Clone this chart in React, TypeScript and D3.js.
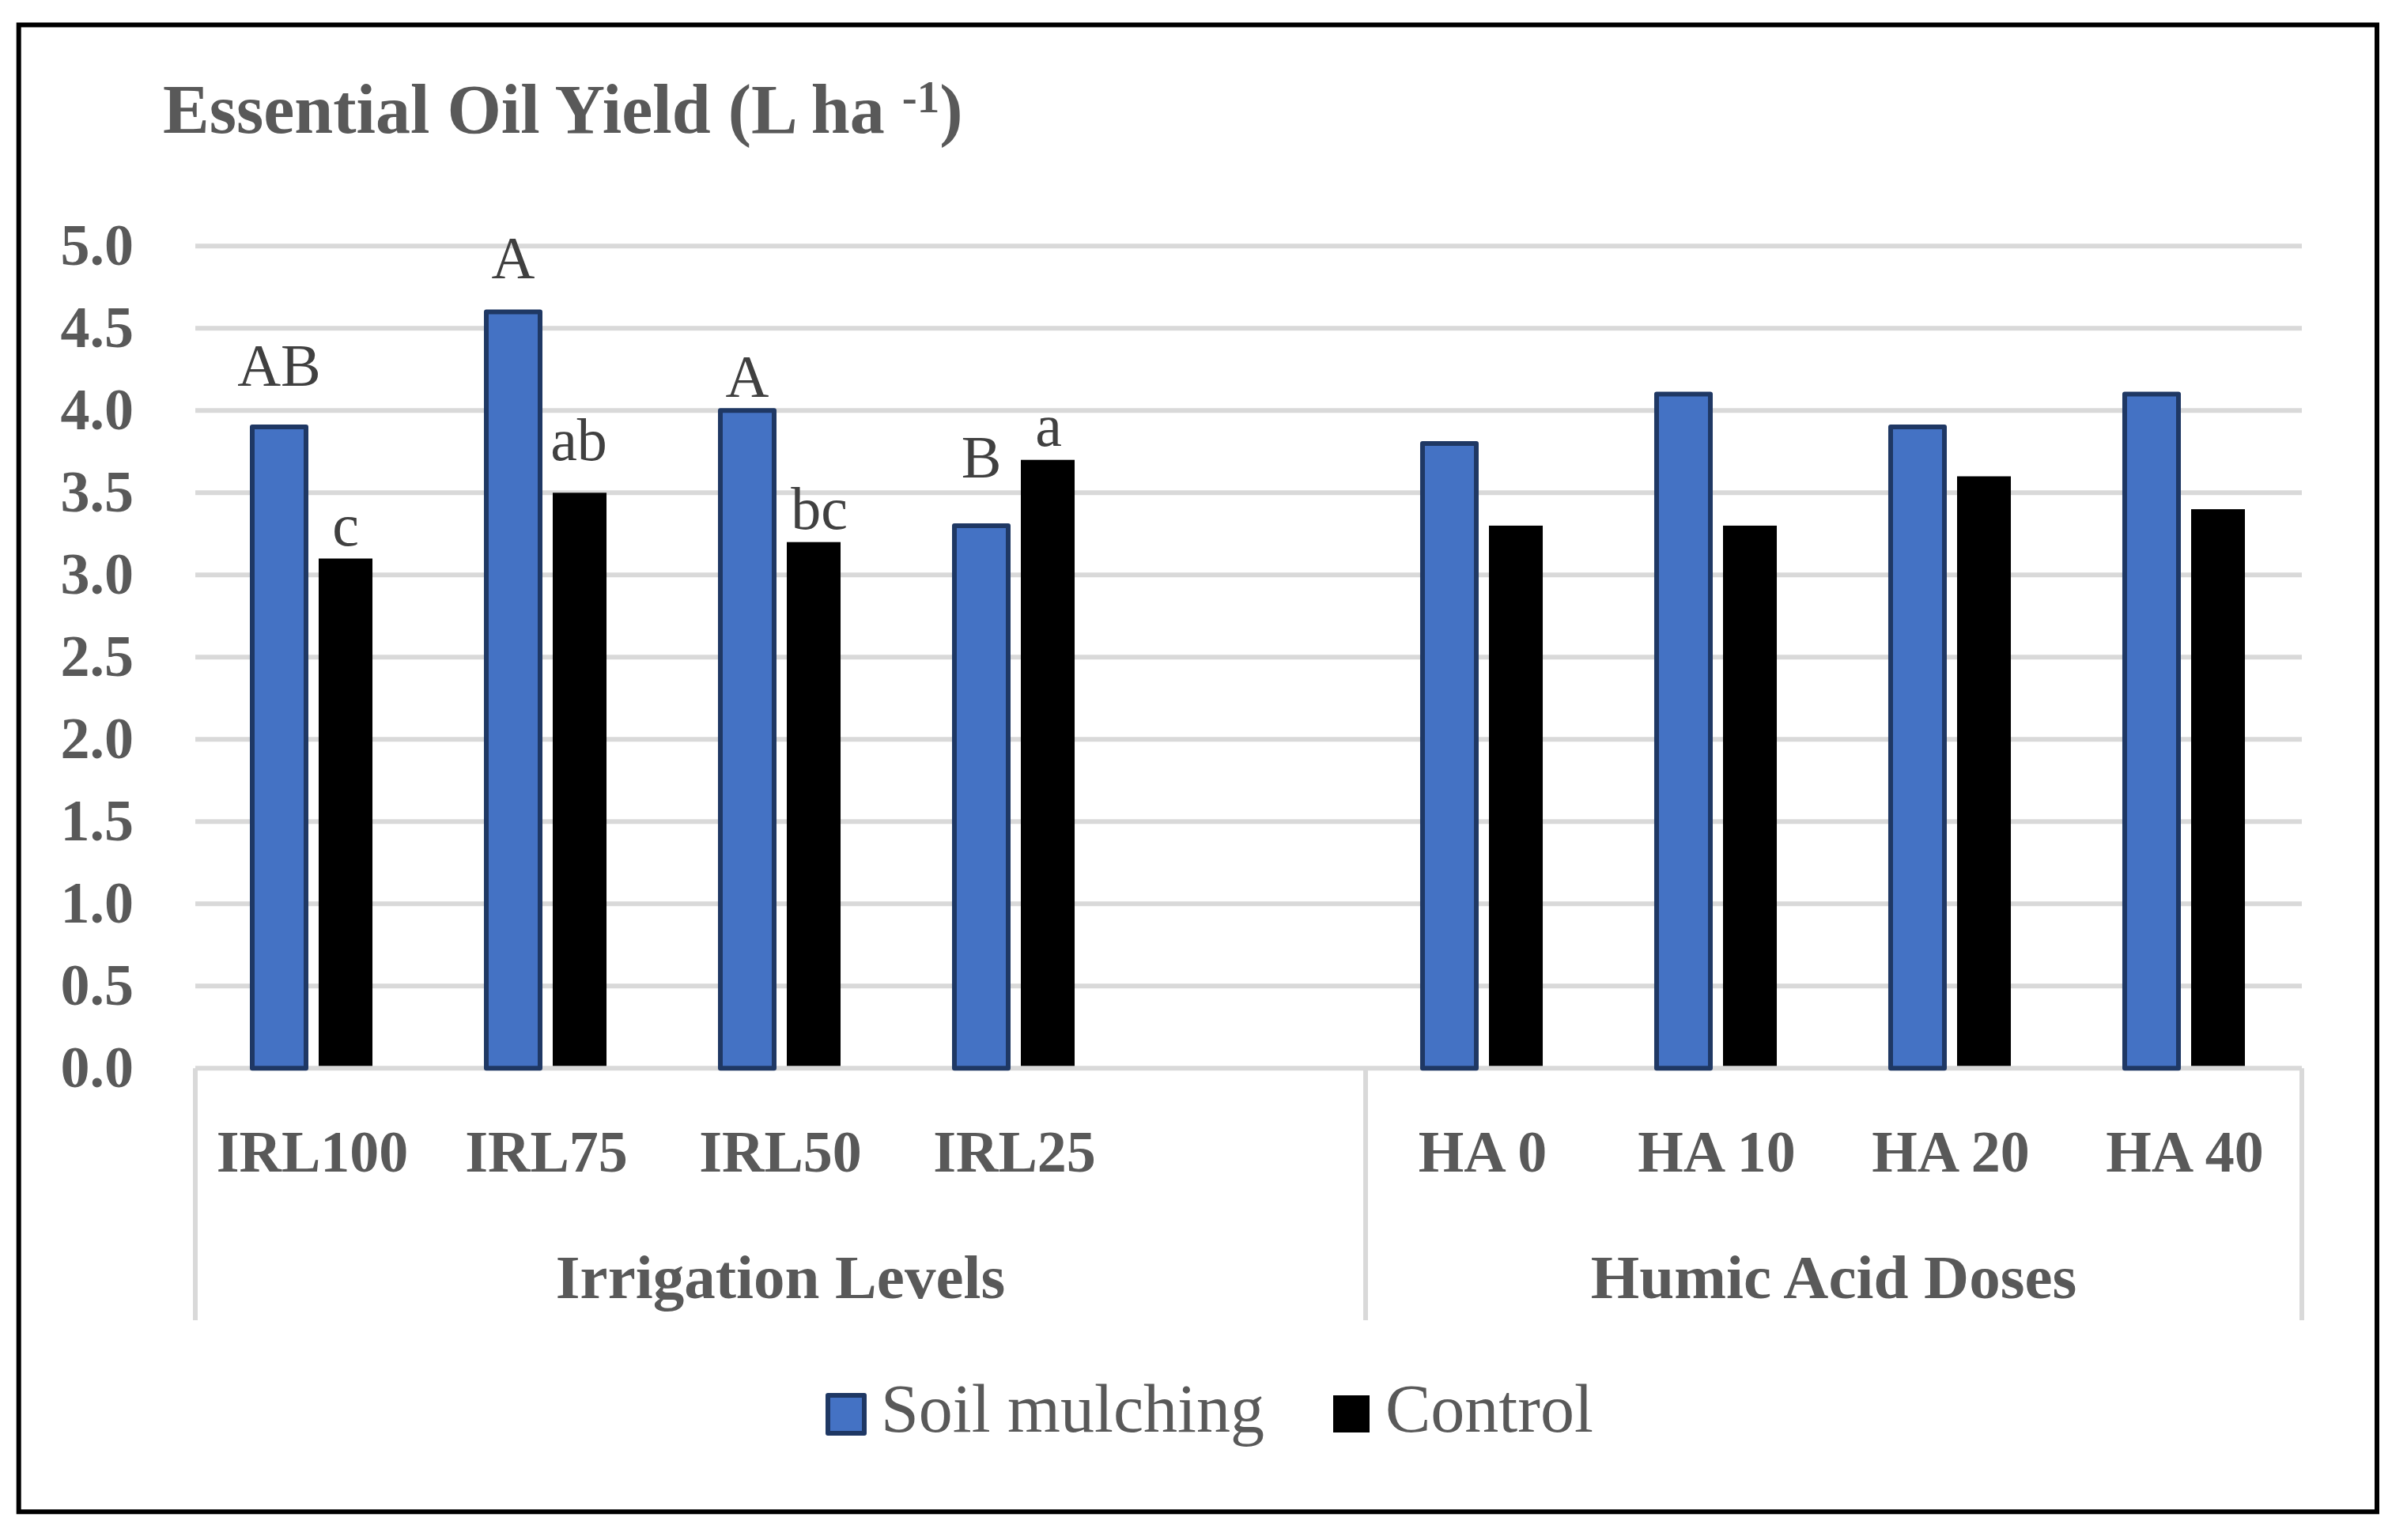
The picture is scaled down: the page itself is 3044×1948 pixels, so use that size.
import * as d3 from "d3";

// categories, with one empty slot between the two factor groups
const irrigationLevels = ["IRL100", "IRL75", "IRL50", "IRL25"];
const humicDoses = ["HA 0", "HA 10", "HA 20", "HA 40"];
const spacer = "__gap__";
const categories = [...irrigationLevels, spacer, ...humicDoses];

const seriesNames = ["Soil mulching", "Control"];

// essential oil yield (L ha-1)
const mulchValues = [3.9, 4.6, 4.0, 3.3, 3.8, 4.1, 3.9, 4.1];
const controlValues = [3.1, 3.5, 3.2, 3.7, 3.3, 3.3, 3.6, 3.4];

// significance letters (irrigation levels only)
const mulchLetters = ["AB", "A", "A", "B"];
const controlLetters = ["c", "ab", "bc", "a"];

const yTicks = [0, 0.5, 1, 1.5, 2, 2.5, 3, 3.5, 4, 4.5, 5];

const groups = [
  { name: "Irrigation Levels", first: irrigationLevels[0], last: spacer },
  { name: "Humic Acid Doses", first: humicDoses[0], last: humicDoses[humicDoses.length - 1] },
];

// letters were hand placed in the original, so each sits at its own height
const mulchLift = [52, 43, 17, 61];
const controlLift = [16.5, 41.6, 16.4, 17.7];
const controlShift = [0, -1, 7, 1];

const W = 3044;
const H = 1948;
const FONT = "'Liberation Serif', 'Times New Roman', serif";
const TEXT = "#595959";
const GRID = "#d9d9d9";
const BLUE = "#4472c4";
const BLUE_EDGE = "#1f3864";

export default function App() {
  const plot = { left: 247, right: 2911, top: 311.3, bottom: 1351.3 };

  const x = d3
    .scaleBand<string>()
    .domain(categories)
    .range([plot.left, plot.right])
    .padding(0);

  const step = x.step();
  const sub = d3
    .scaleBand<string>()
    .domain(seriesNames)
    .range([step * 0.2432, step * 0.7568])
    .paddingInner(0.1905);

  const y = d3.scaleLinear().domain([0, 5]).range([plot.bottom, plot.top]);

  const rows = [...irrigationLevels, ...humicDoses].map((c, i) => ({
    cat: c,
    mulch: mulchValues[i],
    control: controlValues[i],
  }));

  const divX = [plot.left, x(spacer)! + step, plot.right];

  return (
    <svg
      width={W}
      height={H}
      style={{ position: "absolute", left: 0, top: 0, background: "#fff" }}
      fontFamily={FONT}
    >
      <rect x={0} y={0} width={W} height={H} fill="#fff" />
      <rect
        x={23.7}
        y={31.5}
        width={3006 - 23.7}
        height={1912.3 - 31.5}
        fill="none"
        stroke="#000"
        strokeWidth={6}
      />

      {/* title */}
      <text x={206} y={167.7} fill={TEXT} fontSize={88} fontWeight="bold">
        Essential Oil Yield (L ha{" "}
        <tspan fontSize={57} dy={-26}>
          -1
        </tspan>
        <tspan fontSize={88} dy={26}>
          )
        </tspan>
      </text>

      {/* gridlines + y labels */}
      {yTicks.map((t) => (
        <g key={t}>
          <line
            x1={plot.left}
            x2={plot.right}
            y1={y(t)}
            y2={y(t)}
            stroke={GRID}
            strokeWidth={6}
          />
          <text
            x={169}
            y={y(t)}
            dy={24}
            textAnchor="end"
            fill={TEXT}
            fontSize={74}
            fontWeight="bold"
          >
            {d3.format(".1f")(t)}
          </text>
        </g>
      ))}

      {/* group dividers below the axis */}
      {divX.map((d, i) => (
        <line
          key={i}
          x1={d}
          x2={d}
          y1={plot.bottom}
          y2={1670}
          stroke={GRID}
          strokeWidth={6}
        />
      ))}

      {/* bars */}
      {rows.map((r) => {
        const x0 = x(r.cat)!;
        return (
          <g key={r.cat}>
            <rect
              x={x0 + sub("Soil mulching")!}
              y={y(r.mulch)}
              width={sub.bandwidth()}
              height={y(0) - y(r.mulch)}
              fill={BLUE}
              stroke={BLUE_EDGE}
              strokeWidth={6}
              strokeLinejoin="round"
            />
            <rect
              x={x0 + sub("Control")!}
              y={y(r.control)}
              width={sub.bandwidth()}
              height={y(0) - y(r.control) - 3}
              fill="#000"
            />
          </g>
        );
      })}

      {/* significance letters */}
      {irrigationLevels.map((c, i) => {
        const x0 = x(c)!;
        const bw = sub.bandwidth();
        return (
          <g key={c} fill="#404040" fontSize={76} textAnchor="middle">
            <text
              x={x0 + sub("Soil mulching")! + bw / 2}
              y={y(mulchValues[i]) - mulchLift[i]}
            >
              {mulchLetters[i]}
            </text>
            <text
              x={x0 + sub("Control")! + bw / 2 + controlShift[i]}
              y={y(controlValues[i]) - controlLift[i]}
            >
              {controlLetters[i]}
            </text>
          </g>
        );
      })}

      {/* category labels */}
      {categories
        .filter((c) => c !== spacer)
        .map((c) => (
          <text
            key={c}
            x={x(c)! + step / 2}
            y={1481.7}
            textAnchor="middle"
            fill={TEXT}
            fontSize={74}
            fontWeight="bold"
          >
            {c}
          </text>
        ))}

      {/* group labels */}
      {groups.map((g) => {
        const a = x(g.first)!;
        const b = x(g.last)! + step;
        return (
          <text
            key={g.name}
            x={(a + b) / 2}
            y={1641.7}
            textAnchor="middle"
            fill={TEXT}
            fontSize={79}
            fontWeight="bold"
          >
            {g.name}
          </text>
        );
      })}

      {/* legend */}
      <g fontSize={86} fill={TEXT}>
        <rect x={1047} y={1765} width={46} height={48} fill={BLUE} stroke={BLUE_EDGE} strokeWidth={6} strokeLinejoin="round" />
        <text x={1114} y={1811}>
          {seriesNames[0]}
        </text>
        <rect x={1686} y={1765} width={46} height={47} fill="#000" />
        <text x={1752} y={1811}>
          {seriesNames[1]}
        </text>
      </g>
    </svg>
  );
}
